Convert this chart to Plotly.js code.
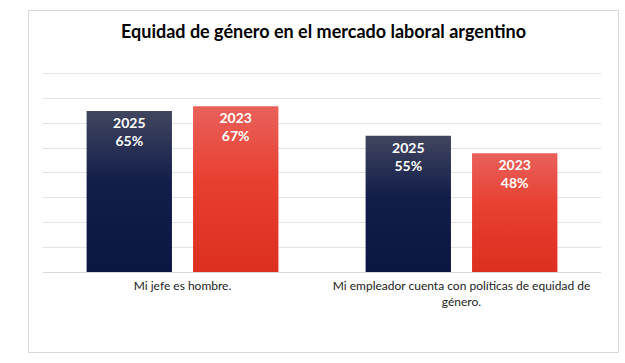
<!DOCTYPE html>
<html>
<head>
<meta charset="utf-8">
<script src="https://cdn.plot.ly/plotly-3.0.1.min.js"></script>
<style>
  html, body { margin: 0; padding: 0; background: #ffffff; }
  #chart { position: absolute; left: 28px; top: 10px; width: 589px; height: 341px; border: 1px solid #d9d9d9; box-sizing: content-box; }
</style>
</head>
<body>
<div id="chart"></div>
<script>
const categories = ["Mi jefe es hombre.", "Mi empleador cuenta con políticas de equidad de<br>género."];
const seriesNames = ["2025", "2023"];
const values2025 = [65, 55];
const values2023 = [67, 48];
const gridValues = [10, 20, 30, 40, 50, 60, 70, 80];

function labels(year, vals) { return vals.map(v => year + "<br>" + v + "%"); }

const textFont = { family: "Lato, 'Open Sans', sans-serif", size: 14, color: "#ffffff", weight: 700 };

const traces = [
  { type: "bar", name: seriesNames[0], x: categories, y: values2025,
    text: labels(seriesNames[0], values2025), textposition: "inside", insidetextanchor: "end",
    textfont: textFont, marker: { color: "#1a2450" }, hoverinfo: "skip" },
  { type: "bar", name: seriesNames[1], x: categories, y: values2023,
    text: labels(seriesNames[1], values2023), textposition: "inside", insidetextanchor: "end",
    textfont: textFont, marker: { color: "#e43d2f" }, hoverinfo: "skip" }
];

const layout = {
  width: 589, height: 341,
  margin: { l: 14, r: 17, t: 58, b: 80 },
  paper_bgcolor: "#ffffff", plot_bgcolor: "#ffffff",
  showlegend: false,
  barmode: "group", bargap: 0.237, bargroupgap: 0.198,
  title: { text: "Equidad de género en el mercado laboral argentino",
    font: { family: "Lato, 'Open Sans', sans-serif", size: 18, color: "#000000", weight: 700 },
    x: 0.5, xanchor: "center", y: 0.938, yanchor: "middle" },
  xaxis: { type: "category", tickfont: { family: "Lato, 'Open Sans', sans-serif", size: 12, color: "#222222" },
    showgrid: false, showline: false, ticks: "", ticklabelstandoff: 5, fixedrange: true },
  yaxis: { range: [0, 82], tickvals: gridValues, showticklabels: false, showgrid: true, gridcolor: "#e3e3e3", gridwidth: 1,
    zeroline: true, zerolinecolor: "#d9d9d9", zerolinewidth: 1, fixedrange: true },
  font: { family: "Lato, 'Open Sans', sans-serif" }
};

Plotly.newPlot("chart", traces, layout, { displayModeBar: false, staticPlot: true }).then(gd => {
  const svg = gd.querySelector("svg.main-svg");
  const ns = "http://www.w3.org/2000/svg";
  let defs = svg.querySelector("defs");
  if (!defs) { defs = document.createElementNS(ns, "defs"); svg.insertBefore(defs, svg.firstChild); }
  function addGrad(id, stops) {
    const g = document.createElementNS(ns, "linearGradient");
    g.setAttribute("id", id); g.setAttribute("x1", "0"); g.setAttribute("y1", "0");
    g.setAttribute("x2", "0"); g.setAttribute("y2", "1");
    stops.forEach(([off, col]) => {
      const s = document.createElementNS(ns, "stop");
      s.setAttribute("offset", off); s.setAttribute("stop-color", col);
      g.appendChild(s);
    });
    defs.appendChild(g);
  }
  addGrad("gBlue", [["0", "#41465f"], ["0.45", "#121d4a"], ["1", "#0b1642"]]);
  addGrad("gRed", [["0", "#e9615b"], ["0.45", "#e83f30"], ["1", "#dc2f20"]]);
  const tr = gd.querySelectorAll(".barlayer .trace");
  const ids = ["gBlue", "gRed"];
  tr.forEach((t, i) => {
    t.querySelectorAll(".point path").forEach(p => { p.style.fill = "url(#" + ids[i] + ")"; });
  });
});
</script>
</body>
</html>
